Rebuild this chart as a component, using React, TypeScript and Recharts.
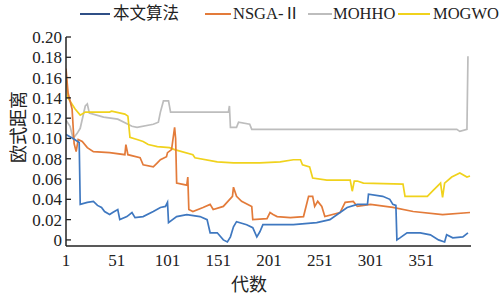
import React from 'react';
import { LineChart, Line, XAxis, YAxis } from 'recharts';

const seriesNames = ['本文算法', 'NSGA-Ⅱ', 'MOHHO', 'MOGWO'];
const seriesColors = ['#3f78c0', '#e37b3a', '#bdbdbd', '#f0d21c'];
const xTicks = [1, 51, 101, 151, 201, 251, 301, 351];
const yTicks = [0, 0.02, 0.04, 0.06, 0.08, 0.1, 0.12, 0.14, 0.16, 0.18, 0.2];
const yTickLabels = ['0', '0.02', '0.04', '0.06', '0.08', '0.10', '0.12', '0.14', '0.16', '0.18', '0.20'];
const xTitle = '代数';
const yTitle = '欧式距离';

// [generation, euclidean distance]
const ours: [number, number][] = [
  [1, 0.104], [8, 0.1], [14, 0.096], [15, 0.035], [22, 0.037], [28, 0.038], [32, 0.034], [36, 0.032],
  [39, 0.028], [44, 0.025], [47, 0.027], [52, 0.03], [54, 0.02], [61, 0.023], [66, 0.027], [69, 0.022],
  [77, 0.023], [87, 0.028], [94, 0.032], [99, 0.033], [101, 0.037], [102, 0.017], [110, 0.023], [120, 0.025],
  [133, 0.023], [140, 0.02], [143, 0.007], [150, 0.007], [156, 0.0], [160, -0.002], [163, 0.003], [166, 0.013],
  [169, 0.018], [179, 0.015], [185, 0.012], [189, 0.003], [192, 0.008], [195, 0.015], [225, 0.015], [248, 0.017],
  [261, 0.02], [271, 0.027], [278, 0.032], [288, 0.035], [298, 0.035], [299, 0.045], [313, 0.043], [320, 0.04],
  [323, 0.035], [326, 0.034], [327, 0.0], [330, 0.002], [337, 0.007], [350, 0.007], [360, 0.005], [368, 0.0],
  [374, -0.002], [376, 0.005], [382, 0.002], [392, 0.003], [397, 0.007],
];

const nsga: [number, number][] = [
  [1, 0.169], [3, 0.145], [7, 0.129], [9, 0.095], [11, 0.087], [13, 0.099], [17, 0.097], [22, 0.091],
  [28, 0.087], [44, 0.086], [59, 0.084], [60, 0.094], [62, 0.084], [74, 0.081], [77, 0.074], [87, 0.072],
  [91, 0.076], [94, 0.079], [100, 0.082], [101, 0.086], [105, 0.089], [108, 0.111], [109, 0.1], [110, 0.056],
  [120, 0.054], [121, 0.062], [122, 0.03], [126, 0.028], [136, 0.032], [143, 0.035], [146, 0.03], [156, 0.033],
  [165, 0.043], [166, 0.052], [169, 0.043], [174, 0.038], [184, 0.033], [185, 0.02], [199, 0.021], [202, 0.027],
  [205, 0.025], [209, 0.023], [222, 0.022], [235, 0.023], [240, 0.043], [244, 0.043], [246, 0.033], [249, 0.038],
  [253, 0.033], [256, 0.023], [271, 0.027], [276, 0.037], [284, 0.038], [288, 0.033], [301, 0.035], [323, 0.032],
  [343, 0.028], [372, 0.025], [399, 0.027],
];

const mohho: [number, number][] = [
  [1, 0.118], [5, 0.112], [8, 0.1], [12, 0.105], [15, 0.11], [20, 0.132], [22, 0.134], [24, 0.125],
  [38, 0.121], [52, 0.119], [66, 0.112], [71, 0.111], [87, 0.114], [92, 0.116], [94, 0.126], [97, 0.137],
  [102, 0.137], [104, 0.126], [161, 0.126], [162, 0.132], [163, 0.111], [169, 0.111], [171, 0.116], [182, 0.114],
  [184, 0.109], [386, 0.109], [389, 0.107], [396, 0.109], [397, 0.181],
];

const mogwo: [number, number][] = [
  [1, 0.162], [3, 0.14], [10, 0.129], [15, 0.123], [20, 0.126], [28, 0.126], [44, 0.126], [46, 0.127],
  [59, 0.124], [62, 0.122], [64, 0.101], [71, 0.099], [77, 0.097], [82, 0.094], [91, 0.092], [103, 0.091],
  [108, 0.089], [126, 0.084], [128, 0.081], [150, 0.077], [166, 0.076], [192, 0.076], [212, 0.077], [225, 0.079],
  [232, 0.079], [234, 0.074], [241, 0.072], [244, 0.061], [258, 0.059], [281, 0.059], [283, 0.048], [285, 0.058],
  [288, 0.058], [294, 0.056], [333, 0.055], [335, 0.043], [357, 0.043], [363, 0.049], [370, 0.056], [372, 0.042],
  [374, 0.056], [381, 0.062], [389, 0.066], [396, 0.062], [399, 0.063],
];

const seriesPairs = [ours, nsga, mohho, mogwo];
const toRows = (pairs: [number, number][]) => pairs.map(([gen, v]) => ({ gen, v }));
const drawOrder = [2, 3, 1, 0];

const serif = 'Liberation Serif, Noto Sans CJK SC, serif';
const legendLineLeft = [80, 205, 308, 398];
const legendLineWidth = [30, 26, 24, 32];
const legendTextLeft = [113, 233, 333, 433];
const axisColor = '#222';

export default function App() {
  return (
    <div style={{ position: 'absolute', left: 0, top: 0, width: 500, height: 296, background: '#fff', fontFamily: serif, overflow: 'hidden' }}>
      <LineChart width={500} height={296} margin={{ top: 37, right: 29, bottom: 0, left: 0 }} style={{ fontFamily: serif }}>
        <XAxis
          type="number"
          dataKey="gen"
          domain={[1, 400]}
          allowDataOverflow
          ticks={xTicks}
          interval={0}
          tickLine={false}
          tickSize={0}
          tickMargin={8}
          height={50}
          axisLine={{ stroke: axisColor, strokeWidth: 1.5 }}
          tick={{ fontSize: 17, fill: axisColor, fontFamily: serif }}
        />
        <YAxis
          type="number"
          domain={[-0.006, 0.2]}
          allowDataOverflow
          ticks={yTicks}
          interval={0}
          width={66}
          tickSize={-5}
          tickMargin={9}
          tickLine={{ stroke: axisColor, strokeWidth: 1.3 }}
          axisLine={{ stroke: axisColor, strokeWidth: 1.5 }}
          tick={{ fontSize: 17, fill: axisColor, fontFamily: serif }}
          tickFormatter={(v: number) => yTickLabels[Math.round(v * 50)] ?? ''}
        />
        {drawOrder.map((i) => (
          <Line
            key={seriesNames[i]}
            data={toRows(seriesPairs[i])}
            dataKey="v"
            name={seriesNames[i]}
            type="linear"
            stroke={seriesColors[i]}
            strokeWidth={1.7}
            dot={false}
            isAnimationActive={false}
          />
        ))}
      </LineChart>
      {seriesNames.map((name, i) => (
        <React.Fragment key={name}>
          <div style={{ position: 'absolute', left: legendLineLeft[i], top: 13, width: legendLineWidth[i], height: 2, background: i === 0 ? '#2f4f86' : seriesColors[i] }} />
          <span style={{ position: 'absolute', left: legendTextLeft[i], top: 2, lineHeight: '24px', fontSize: 16.5, color: axisColor, fontFamily: serif, whiteSpace: 'nowrap' }}>{name}</span>
        </React.Fragment>
      ))}
      <div style={{ position: 'absolute', left: 249, top: 283, transform: 'translate(-50%, -50%)', fontSize: 18, color: axisColor, fontFamily: serif, whiteSpace: 'nowrap' }}>
        {xTitle}
      </div>
      <div style={{ position: 'absolute', left: 17, top: 127, transform: 'translate(-50%, -50%) rotate(-90deg)', fontSize: 18, color: axisColor, fontFamily: serif, whiteSpace: 'nowrap' }}>
        {yTitle}
      </div>
    </div>
  );
}
